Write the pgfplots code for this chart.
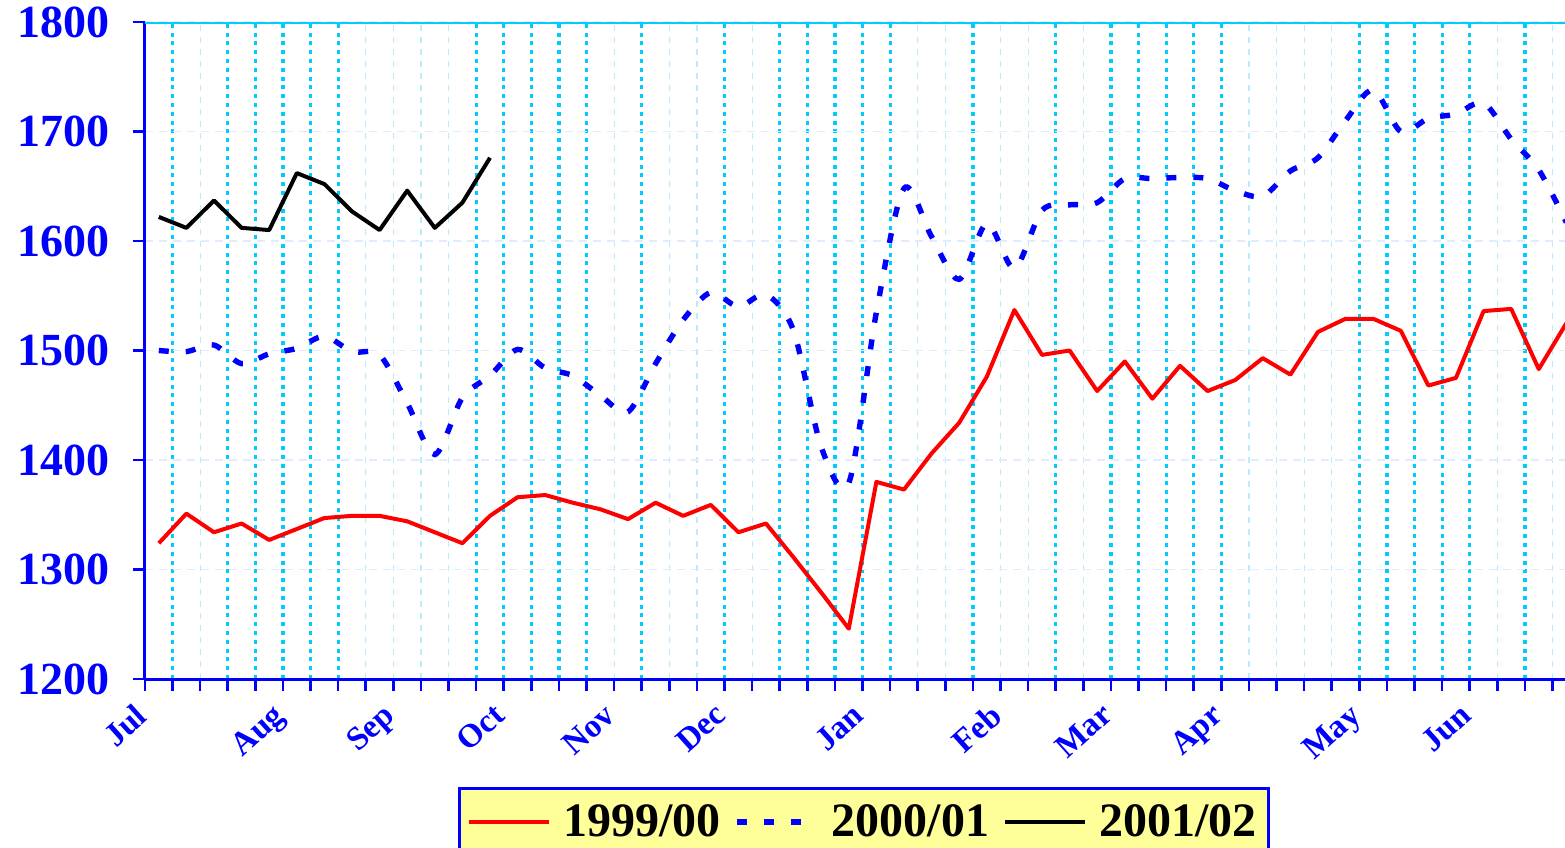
\documentclass[border=0pt]{standalone}
\usepackage{pgfplots}
\pgfplotsset{compat=1.18}
\usepackage{fontspec}
\setmainfont{Liberation Serif}
\definecolor{gridcyan}{RGB}{0,204,255}
\definecolor{faintcyan}{RGB}{185,236,255}
\definecolor{hgrid}{RGB}{225,236,255}
\definecolor{legfill}{RGB}{255,255,153}
\begin{document}
\begin{tikzpicture}
\begin{axis}[
  set layers,
  scale only axis, width=710pt, height=328.5pt, at={(0,0)}, anchor=south west,
  xmin=0, xmax=51.45, ymin=1200, ymax=1800,
  axis x line*=bottom, axis y line*=left,
  axis line style={blue, line width=1.5pt, -},
  ytick={1200,1300,...,1800},
  xtick={0,5,9,13,17,21,26,31,35,39,44,48},
  xticklabels={Jul,Aug,Sep,Oct,Nov,Dec,Jan,Feb,Mar,Apr,May,Jun},
  minor xtick={0,...,51},
  ymajorgrids,
  major y grid style={hgrid, line width=0.8pt, dash pattern=on 4pt off 3pt},
  tick align=outside,
  major tick length=6pt, minor tick length=6pt,
  tick style={blue, line width=1.3pt},
  /pgf/number format/assume math mode=true,
  /pgf/number format/1000 sep={},
  yticklabel style={font=\bfseries\fontsize{23}{23}\selectfont, text=blue, xshift=-8pt},
  xticklabel style={font=\bfseries\fontsize{16.5}{16.5}\selectfont, text=blue, xshift=-5.5pt, yshift=-0.5pt, rotate=42, anchor=north east},
  legend style={at={(0.5063,-0.1644)}, anchor=north, draw=blue, line width=1.5pt, fill=legfill,
    font=\bfseries\fontsize{24}{24}\selectfont, text=black, inner xsep=4pt, inner ysep=6pt,
    /tikz/every odd column/.append style={column sep=4pt},
    /tikz/every even column/.append style={column sep=5pt}},
  legend columns=3,
  legend image code/.code={\draw[#1] (0pt,0pt) -- (40pt,0pt);},
]
\begin{pgfonlayer}{axis background}
\pgfplotsinvokeforeach{1,3,4,5,6,7,12,13,14,15,16,18,21,23,24,25,26,27,30,33,35,36,37,38,39,44,45,46,47,48,50}{
  \draw[gridcyan, line width=1.6pt, dash pattern=on 2pt off 2.4pt] (axis cs:#1,1200) -- (axis cs:#1,1800);
}
\pgfplotsinvokeforeach{2,8,9,10,11,17,19,20,22,28,29,31,32,34,40,41,42,43,49,51}{
  \draw[faintcyan, line width=0.6pt, dash pattern=on 3pt off 3pt] (axis cs:#1,1200) -- (axis cs:#1,1800);
}
\end{pgfonlayer}
\addplot[red, line width=2pt, line join=round] coordinates {
(0.5,1324) (1.5,1351) (2.5,1334) (3.5,1342) (4.5,1327) (5.5,1337) (6.5,1347) (7.5,1349)
(8.5,1349) (9.5,1344) (10.5,1334) (11.5,1324) (12.5,1349) (13.5,1366) (14.5,1368) (15.5,1361)
(16.5,1355) (17.5,1346) (18.5,1361) (19.5,1349) (20.5,1359) (21.5,1334) (22.5,1342) (23.5,1311)
(24.5,1279) (25.5,1246) (26.5,1380) (27.5,1373) (28.5,1406) (29.5,1434) (30.5,1476) (31.5,1537)
(32.5,1496) (33.5,1500) (34.5,1463) (35.5,1490) (36.5,1456) (37.5,1486) (38.5,1463) (39.5,1473)
(40.5,1493) (41.5,1478) (42.5,1517) (43.5,1529) (44.5,1529) (45.5,1518) (46.5,1468) (47.5,1475)
(48.5,1536) (49.5,1538) (50.5,1483) (51.5,1525)
};
\addlegendentry{1999/00}
\addplot[blue, line width=2.7pt, smooth, dash pattern=on 5pt off 8.5pt] coordinates {
(0.5,1500) (1.5,1499) (2.5,1505) (3.5,1488) (4.5,1497) (5.5,1502) (6.5,1513) (7.5,1499)
(8.5,1496) (9.5,1452) (10.5,1405) (11.5,1457) (12.5,1477) (13.5,1501) (14.5,1484) (15.5,1477)
(16.5,1459) (17.5,1444) (18.5,1488) (19.5,1528) (20.5,1553) (21.5,1540) (22.5,1551) (23.5,1518)
(24.5,1412) (25.5,1379) (26.5,1535) (27.5,1648) (28.5,1604) (29.5,1565) (30.5,1616) (31.5,1575)
(32.5,1628) (33.5,1633) (34.5,1635) (35.5,1657) (36.5,1657) (37.5,1658) (38.5,1657) (39.5,1646)
(40.5,1641) (41.5,1664) (42.5,1676) (43.5,1710) (44.5,1738) (45.5,1700) (46.5,1712) (47.5,1716)
(48.5,1726) (49.5,1693) (50.5,1665) (51.5,1617)
};
\addlegendentry{2000/01}
\addplot[black, line width=2pt, line join=round] coordinates {
(0.5,1622) (1.5,1612) (2.5,1637) (3.5,1612) (4.5,1610) (5.5,1662) (6.5,1652) (7.5,1627)
(8.5,1610) (9.5,1646) (10.5,1612) (11.5,1635) (12.5,1676)
};
\addlegendentry{2001/02}
\draw[gridcyan, line width=1.5pt] (rel axis cs:0,1) -- (rel axis cs:1,1);
\end{axis}
\pgfresetboundingbox
\path[use as bounding box] (-72.5pt,-84pt) rectangle (710pt,339.5pt);
\end{tikzpicture}
\end{document}
